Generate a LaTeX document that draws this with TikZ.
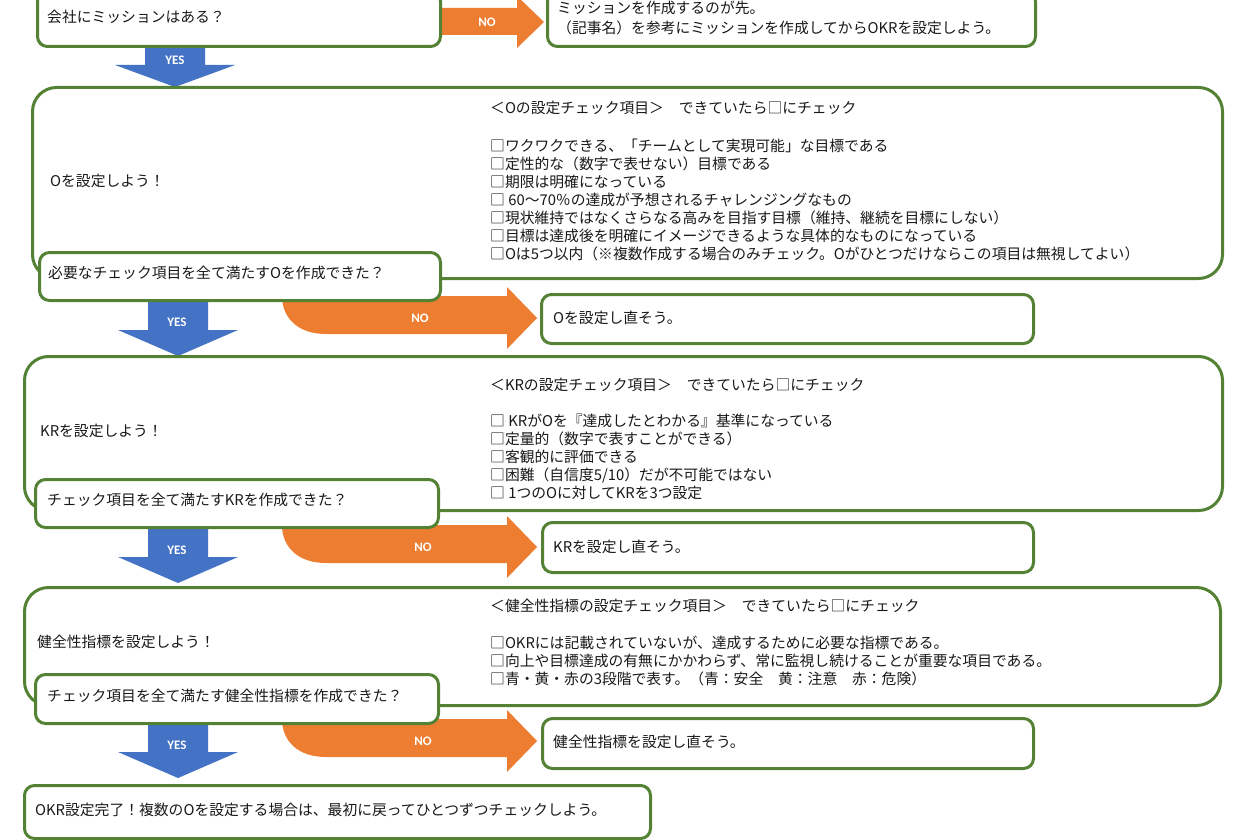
\documentclass[tikz,border=0pt]{standalone}
\usepackage{fontspec}
\setmainfont{Noto Sans CJK JP}
\newfontfamily\labfont{Carlito}
\definecolor{grn}{RGB}{84,130,53}
\definecolor{orn}{RGB}{237,125,49}
\definecolor{blu}{RGB}{68,114,196}
\definecolor{txt}{RGB}{25,25,25}
\begin{document}
\begin{tikzpicture}[x=1pt,y=-1pt,
  box/.style={draw=grn, line width=3pt, rounded corners=10pt, fill=white, inner sep=0pt, anchor=north west},
  bigbox/.style={box, rounded corners=24pt},
  jt/.style={font=\fontsize{14.8}{18}\selectfont, text=txt, inner sep=0pt, anchor=west},
  lst/.style={jt, align=left, anchor=north west},
  lab/.style={font=\labfont\bfseries\fontsize{13}{15}\selectfont, text=white, inner sep=0pt},
  yesarrow/.style={fill=blu},
  noarrow/.style={fill=orn}]
\useasboundingbox (0,0) rectangle (1260,840);
\fill[white] (0,0) rectangle (1260,840);

% ---- arrows (behind boxes) ----
% NO 1 (straight)
\fill[noarrow] (430,8) -- (517,8) -- (517,-4) -- (544,22) -- (517,48) -- (517,35) -- (430,35) -- cycle;
% YES arrows
\fill[yesarrow] (145,40) -- (205,40) -- (205,65) -- (235,65) -- (175,87) -- (115,65) -- (145,65) -- cycle;
\foreach \dy in {0,227,422}{
  \begin{scope}[shift={(0,\dy)}]
    \fill[yesarrow] (148,295) -- (208,295) -- (208,330) -- (238,330) -- (178,356) -- (118,330) -- (148,330) -- cycle;
  \end{scope}
}
% NO arrows (curved tail)
\foreach \dy in {0,229,423}{
  \begin{scope}[shift={(0,\dy)}]
    \fill[noarrow] (282,296) -- (507,296) -- (507,287) -- (537,318) -- (507,349) -- (507,334)
      -- (326,334) .. controls (298,334) and (282,318) .. (282,296) -- cycle;
  \end{scope}
}

% ---- boxes ----
\node[box, minimum width=403pt, minimum height=55pt] (b1) at (36,-10) {};
\node[box, minimum width=488pt, minimum height=55pt] (mis) at (546,-10) {};
\node[bigbox, minimum width=1190pt, minimum height=191pt] (obox) at (31,86) {};
\node[box, minimum width=401pt, minimum height=48pt] (q1) at (38,251) {};
\node[box, minimum width=492pt, minimum height=49pt] (r1) at (540,293) {};
\node[bigbox, minimum width=1198pt, minimum height=154pt] (kbox) at (23,355) {};
\node[box, minimum width=403pt, minimum height=48pt] (q2) at (34,478) {};
\node[box, minimum width=491pt, minimum height=50pt] (r2) at (541,521) {};
\node[bigbox, minimum width=1196pt, minimum height=118pt] (hbox) at (23,586) {};
\node[box, minimum width=403pt, minimum height=49pt] (q3) at (34,673) {};
\node[box, minimum width=491pt, minimum height=50pt] (r3) at (541,717) {};
\node[box, minimum width=626pt, minimum height=53pt] (fin) at (23,784) {};

% ---- arrow labels ----
\node[lab] (no1) at (487,22) {NO};
\node[lab] (yes1) at (175,60) {YES};
\node[lab] (yes2) at (177,322) {YES};
\node[lab] (no2) at (420,318) {NO};
\node[lab] (yes3) at (177,550) {YES};
\node[lab] (no3) at (423,547) {NO};
\node[lab] (yes4) at (177,745) {YES};
\node[lab] (no4) at (423,741) {NO};

% ---- texts ----
\node[jt] (t1) at (47,17) {会社にミッションはある？};
\node[lst] (tm) at (557,0.5) {ミッションを作成するのが先。\\[2pt]（記事名）を参考にミッションを作成してからOKRを設定しよう。};

\node[jt] (to) at (50,181) {Oを設定しよう！};
\node[lst] (tol) at (490,100.5) {＜Oの設定チェック項目＞　できていたら□にチェック\\[20pt]
□ワクワクできる、「チームとして実現可能」な目標である\\
□定性的な（数字で表せない）目標である\\
□期限は明確になっている\\
□ 60〜70％の達成が予想されるチャレンジングなもの\\
□現状維持ではなくさらなる高みを目指す目標（維持、継続を目標にしない）\\
□目標は達成後を明確にイメージできるような具体的なものになっている\\
□Oは5つ以内（※複数作成する場合のみチェック。Oがひとつだけならこの項目は無視してよい）};
\node[jt] (tq1) at (48,273) {必要なチェック項目を全て満たすOを作成できた？};
\node[jt] (tr1) at (553,318) {Oを設定し直そう。};

\node[jt] (tk) at (40,431) {KRを設定しよう！};
\node[lst] (tkl) at (490,378) {＜KRの設定チェック項目＞　できていたら□にチェック\\[18pt]
□ KRがOを『達成したとわかる』基準になっている\\
□定量的（数字で表すことができる）\\
□客観的に評価できる\\
□困難（自信度5/10）だが不可能ではない\\
□ 1つのOに対してKRを3つ設定};
\node[jt] (tq2) at (47,500) {チェック項目を全て満たすKRを作成できた？};
\node[jt] (tr2) at (553,547) {KRを設定し直そう。};

\node[jt] (th) at (37,642) {健全性指標を設定しよう！};
\node[lst] (thl) at (490,599) {＜健全性指標の設定チェック項目＞　できていたら□にチェック\\[19pt]
□OKRには記載されていないが、達成するために必要な指標である。\\
□向上や目標達成の有無にかかわらず、常に監視し続けることが重要な項目である。\\
□青・黄・赤の3段階で表す。（青：安全　黄：注意　赤：危険）};
\node[jt] (tq3) at (47,696) {チェック項目を全て満たす健全性指標を作成できた？};
\node[jt] (tr3) at (553,742) {健全性指標を設定し直そう。};

\node[jt] (tf) at (35,810) {OKR設定完了！複数のOを設定する場合は、最初に戻ってひとつずつチェックしよう。};
\end{tikzpicture}
\end{document}
